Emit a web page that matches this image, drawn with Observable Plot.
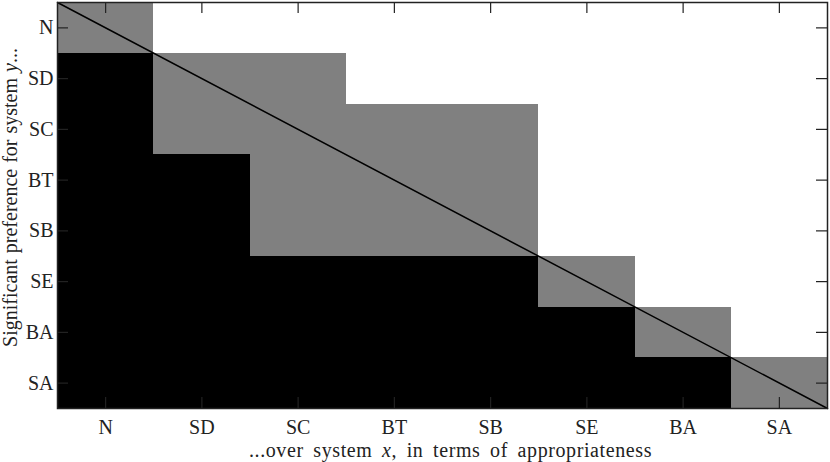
<!DOCTYPE html>
<html>
<head>
<meta charset="utf-8">
<script src="https://cdn.jsdelivr.net/npm/d3@7"></script>
<script src="https://cdn.jsdelivr.net/npm/@observablehq/plot@0.6"></script>
<style>
  html, body { margin: 0; padding: 0; background: #fff; }
  #chart svg, #chart svg text, #chart svg g { font-family: "Liberation Serif", "DejaVu Serif", serif !important; }
  #chart svg text { font-size: 20px !important; fill: #222; }
  #chart svg g[aria-label="x-axis label"] text { letter-spacing: 0.6px; word-spacing: 4px; }
  #chart svg g[aria-label="y-axis label"] text { letter-spacing: 0px; word-spacing: 1px; }
</style>
</head>
<body>
<div id="chart"></div>
<script>
// Systems (x: columns, y: rows top to bottom)
const systemsX = ["N", "SD", "SC", "BT", "SB", "SE", "BA", "SA"];
const systemsY = ["N", "SD", "SC", "BT", "SB", "SE", "BA", "SA"];

// 2 = significant preference for y over x (black), 1 = no significant difference (gray), 0 = x preferred (white)
const rowN  = [1, 0, 0, 0, 0, 0, 0, 0];
const rowSD = [2, 1, 1, 0, 0, 0, 0, 0];
const rowSC = [2, 1, 1, 1, 1, 0, 0, 0];
const rowBT = [2, 2, 1, 1, 1, 0, 0, 0];
const rowSB = [2, 2, 1, 1, 1, 0, 0, 0];
const rowSE = [2, 2, 2, 2, 2, 1, 0, 0];
const rowBA = [2, 2, 2, 2, 2, 2, 1, 0];
const rowSA = [2, 2, 2, 2, 2, 2, 2, 1];
const rows = [rowN, rowSD, rowSC, rowBT, rowSB, rowSE, rowBA, rowSA];

const cells = [];
rows.forEach((row, j) => row.forEach((v, i) => cells.push({i, j, v})));

const n = systemsX.length;
const tickPos = systemsX.map((_, i) => i + 0.5);
const diag = [[0, 0], [n, n]];

const W = 830, H = 462;
const mL = 57, mR = 3, mT = 2, mB = 54;
const plotW = W - mL - mR, plotH = H - mT - mB;
const tickLen = 11;
const ink = "#222";

const chart = Plot.plot({
  width: W,
  height: H,
  marginLeft: mL,
  marginRight: mR,
  marginTop: mT,
  marginBottom: mB,
  style: {color: ink, background: "#fff"},
  x: {domain: [0, n], axis: null},
  y: {domain: [0, n], reverse: true, axis: null},
  color: {type: "ordinal", domain: [0, 1, 2], range: ["#ffffff", "#808080", "#000000"]},
  marks: [
    Plot.rect(cells, {x1: d => d.i, x2: d => d.i + 1, y1: d => d.j, y2: d => d.j + 1, fill: d => d.v, inset: 0, shapeRendering: "crispEdges"}),
    Plot.line(diag, {x: d => d[0], y: d => d[1], stroke: "#000", strokeWidth: 1.5}),
    // inward tick marks on all four sides
    Plot.tickX(tickPos, {x: d => d, insetTop: plotH - tickLen, stroke: ink, strokeWidth: 1.2}),
    Plot.tickX(tickPos, {x: d => d, insetBottom: plotH - tickLen, stroke: ink, strokeWidth: 1.2}),
    Plot.tickY(tickPos, {y: d => d, insetRight: plotW - tickLen, stroke: ink, strokeWidth: 1.2}),
    Plot.tickY(tickPos, {y: d => d, insetLeft: plotW - tickLen, stroke: ink, strokeWidth: 1.2}),
    Plot.frame({stroke: ink, strokeWidth: 1.5}),
    Plot.axisX(tickPos, {
      anchor: "bottom", tickSize: 0, tickPadding: 11, fontSize: 20,
      tickFormat: d => systemsX[Math.floor(d)],
      label: "...over system x, in terms of appropriateness", labelAnchor: "center", labelArrow: "none", labelOffset: 48
    }),
    Plot.axisY(tickPos, {
      anchor: "left", tickSize: 0, tickPadding: 4, fontSize: 20,
      tickFormat: d => systemsY[Math.floor(d)],
      label: "Significant preference for system y...", labelAnchor: "center", labelArrow: "none", labelOffset: 55
    })
  ]
});

// italicize the variable letters in the axis labels
function italicize(sel, before, v, after, shift) {
  const t = chart.querySelector(sel);
  if (!t) return;
  t.textContent = "";
  const ns = "http://www.w3.org/2000/svg";
  const a = document.createElementNS(ns, "tspan"); a.textContent = before;
  const b = document.createElementNS(ns, "tspan"); b.textContent = v; b.setAttribute("font-style", "italic");
  const c = document.createElementNS(ns, "tspan"); c.textContent = after;
  t.append(a, b, c);
  t.setAttribute("dx", shift);
}
italicize('g[aria-label="x-axis label"] text', "...over system ", "x", ", in terms of appropriateness", 8);
italicize('g[aria-label="y-axis label"] text', "Significant preference for system ", "y", "...", 8);

document.getElementById("chart").appendChild(chart);
</script>
</body>
</html>
